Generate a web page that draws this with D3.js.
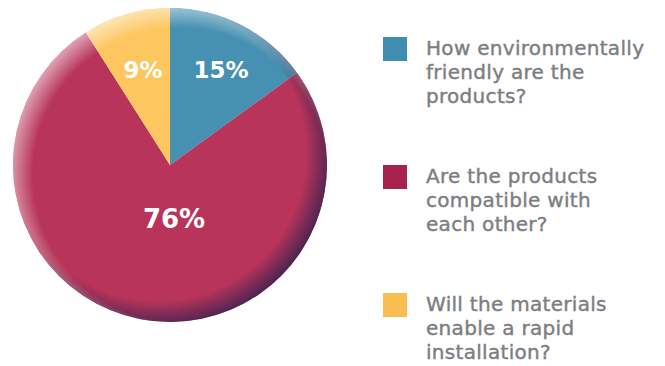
<!DOCTYPE html>
<html>
<head>
<meta charset="utf-8">
<script src="https://cdn.jsdelivr.net/npm/d3@7"></script>
<style>
  html, body { margin: 0; padding: 0; background: #fff; }
  svg { display: block; }
  .legend text { font-family: "DejaVu Sans", sans-serif; font-size: 20px; letter-spacing: 0.3px;
    fill: #7d7d82; stroke: #7d7d82; stroke-width: 0.4px; }
  .pct { font-family: "DejaVu Sans", sans-serif; font-weight: bold; fill: #fff; }
</style>
</head>
<body>
<svg id="chart" width="665" height="366"></svg>
<script>
// data
const categories = ['environment', 'compatible', 'rapid'];
const values = [15, 76, 9];
const sliceColors = ['#4690b1', '#b8345a', '#fdc65f'];
const swatchColors = ['#418db0', '#a6214b', '#f9be50'];
const legendLines = [
  ['How environmentally', 'friendly are the', 'products?'],
  ['Are the products', 'compatible with', 'each other?'],
  ['Will the materials', 'enable a rapid', 'installation?']
];

const svg = d3.select('#chart');
const cx = 170, cy = 165, radius = 157;

const defs = svg.append('defs');
// shadow toward bottom-right
const shade = defs.append('radialGradient')
  .attr('id', 'shade')
  .attr('gradientUnits', 'userSpaceOnUse')
  .attr('cx', cx - 12).attr('cy', cy - 12).attr('r', radius + 17);
shade.append('stop').attr('offset', 0.85).attr('stop-color', '#3e2250').attr('stop-opacity', 0);
shade.append('stop').attr('offset', 1).attr('stop-color', '#3e2250').attr('stop-opacity', 0.9);
// highlight toward top-left
const light = defs.append('radialGradient')
  .attr('id', 'light')
  .attr('gradientUnits', 'userSpaceOnUse')
  .attr('cx', cx + 10).attr('cy', cy + 10).attr('r', radius + 14);
light.append('stop').attr('offset', 0.86).attr('stop-color', '#ffffff').attr('stop-opacity', 0);
light.append('stop').attr('offset', 1).attr('stop-color', '#ffffff').attr('stop-opacity', 0.55);

const pie = d3.pie().sort(null).value(d => d);
const arcs = pie(values);
const arc = d3.arc().innerRadius(0).outerRadius(radius);

const g = svg.append('g').attr('transform', `translate(${cx},${cy})`);

g.selectAll('path.slice')
  .data(arcs)
  .enter().append('path')
  .attr('class', 'slice')
  .attr('d', arc)
  .attr('fill', (d, i) => sliceColors[i]);

svg.append('circle').attr('cx', cx).attr('cy', cy).attr('r', radius)
  .attr('fill', 'url(#shade)');
svg.append('circle').attr('cx', cx).attr('cy', cy).attr('r', radius)
  .attr('fill', 'url(#light)');

// percent labels (small slices near rim, big slice nudged by hand)
const labelArc = d3.arc().innerRadius(radius * 0.66).outerRadius(radius * 0.66);
const nudge = [[4, -3], [14, -1], [2, 4]];
g.selectAll('text.pct')
  .data(arcs)
  .enter().append('text')
  .attr('class', 'pct')
  .attr('text-anchor', 'middle')
  .attr('dy', '0.36em')
  .attr('font-size', d => d.data > 50 ? 26 : 23)
  .attr('transform', (d, i) => {
    const [x, y] = d.data > 50 ? [-10, 55] : labelArc.centroid(d);
    return `translate(${x + nudge[i][0]},${y + nudge[i][1]})`;
  })
  .text(d => d.data + '%');

// legend
const legend = svg.append('g').attr('class', 'legend');
const rowY = d3.scalePoint().domain(categories).range([37, 293]);
const item = legend.selectAll('g.item')
  .data(categories)
  .enter().append('g')
  .attr('class', 'item')
  .attr('transform', d => `translate(383,${rowY(d)})`);

item.append('rect')
  .attr('width', 24).attr('height', 24)
  .attr('fill', (d, i) => swatchColors[i]);

item.each(function (d, i) {
  d3.select(this).selectAll('text')
    .data(legendLines[i])
    .enter().append('text')
    .attr('x', 43)
    .attr('y', (t, j) => 18 + j * 24)
    .text(t => t);
});
</script>
</body>
</html>
